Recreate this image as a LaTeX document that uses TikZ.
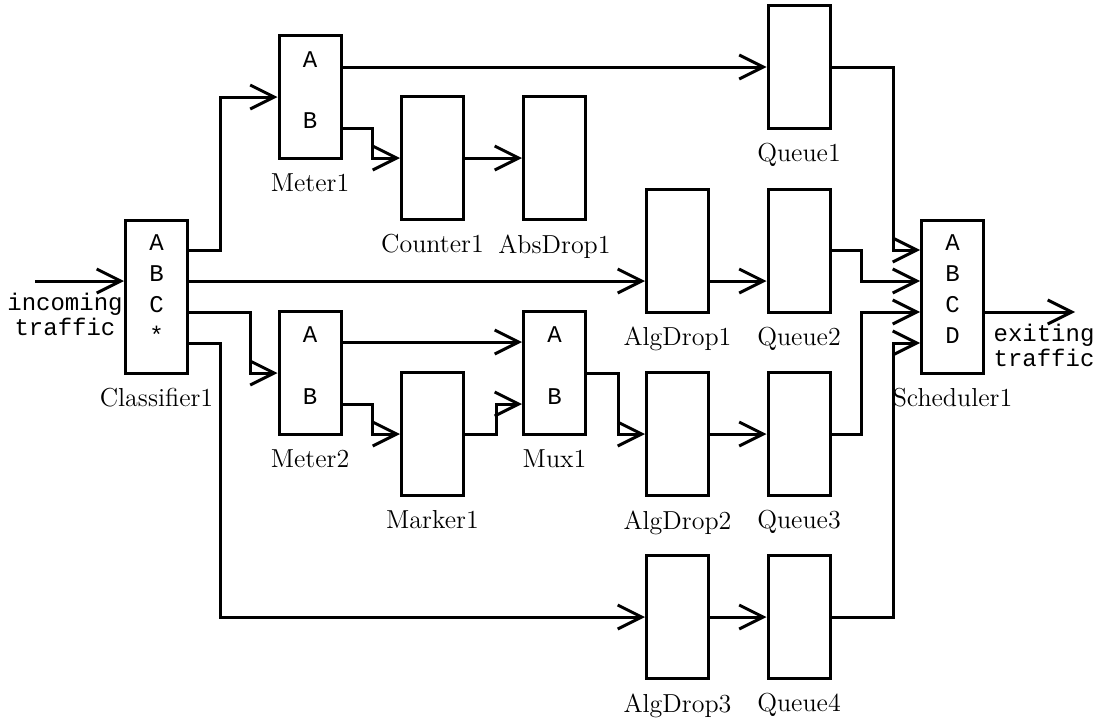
\documentclass[tikz,border=0pt]{standalone}
\usepackage{fontspec}
\newfontfamily\portfont{Liberation Mono}
\usetikzlibrary{arrows.meta}

\begin{document}
\begin{tikzpicture}[
  x=0.5pt, y=-0.5pt,
  line width=1.5pt,
  label distance=6pt,
  every label/.style={font=\fontsize{13}{15}\selectfont, inner sep=0pt},
  block/.style={rectangle, draw, minimum width=31pt, minimum height=61.5pt, inner sep=0pt},
  tallblock/.style={block, minimum height=76.5pt},
  port/.style={anchor=base, inner sep=0pt, font=\portfont\fontsize{12}{12.5}\selectfont},
  flow/.style={-{Straight Barb[length=12pt,width=12pt]}},
]
\useasboundingbox (0,0) rectangle (1101,718);

% boxes
\node[tallblock, label=below:Classifier1] (cls) at (156.5,296.5) {};
\node[block, label=below:Meter1] (met1) at (310,97) {};
\node[block, label=below:Queue1] (q1) at (799,67) {};
\node[block, label=below:Counter1] (cnt1) at (432.5,158) {};
\node[block, label=below:AbsDrop1] (abs1) at (554.5,158) {};
\node[block, label=below:AlgDrop1] (alg1) at (677.5,250.5) {};
\node[block, label=below:Queue2] (q2) at (799,250.5) {};
\node[tallblock, label=below:Scheduler1] (sch) at (952.5,296.5) {};
\node[block, label=below:Meter2] (met2) at (310,373) {};
\node[block, label=below:Mux1] (mux1) at (554.5,373) {};
\node[block, label=below:Marker1] (mrk1) at (432.5,434) {};
\node[block, label=below:AlgDrop2] (alg2) at (677.5,434) {};
\node[block, label=below:Queue3] (q3) at (799,434) {};
\node[block, label=below:AlgDrop3] (alg3) at (677.5,617) {};
\node[block, label=below:Queue4] (q4) at (799,617) {};

% port letters
\node[port] (clsA) at (156.5,250) {A};
\node[port] (clsB) at (156.5,281) {B};
\node[port] (clsC) at (156.5,312) {C};
\node[port] (clsS) at (156.5,343) {*};
\node[port] (schA) at (952.5,250) {A};
\node[port] (schB) at (952.5,281) {B};
\node[port] (schC) at (952.5,312) {C};
\node[port] (schD) at (952.5,343) {D};
\node[port] (met1A) at (310,67) {A};
\node[port] (met1B) at (310,128) {B};
\node[port] (met2A) at (310,342) {A};
\node[port] (met2B) at (310,404) {B};
\node[port] (muxA) at (554.5,342) {A};
\node[port] (muxB) at (554.5,404) {B};

% traffic in and out
\coordinate (in) at (35,281);
\coordinate (out) at (1075,312);
\node[font=\portfont\fontsize{12}{12.5}\selectfont, align=center, inner sep=0pt, anchor=base] (intxt) at (65,335) {incoming\\traffic};
\node[font=\portfont\fontsize{12}{12.5}\selectfont, align=center, inner sep=0pt, anchor=base] (outtxt) at (1044,366) {exiting\\traffic};

% connectors
\draw[flow] (in) -- (in -| cls.west);
\draw[flow] (cls.east |- clsA.base) -- ++(31,0) |- (met1.west);
\draw[flow] (cls.east |- clsB.base) -- (clsB.base -| alg1.west);
\draw[flow] (cls.east |- clsC.base) -- ++(61,0) |- (met2.west);
\draw[flow] (cls.east |- clsS.base) -- ++(31,0) |- (alg3.west);
\draw[flow] (met1.east |- met1A.base) -- (q1.west);
\draw[flow] (met1.east |- met1B.base) -- ++(30,0) |- (cnt1.west);
\draw[flow] (cnt1) -- (abs1);
\draw[flow] (alg1.east |- clsB.base) -- (q2.west |- clsB.base);
\draw[flow] (met2.east |- met2A.base) -- (mux1.west |- muxA.base);
\draw[flow] (met2.east |- met2B.base) -- ++(30,0) |- (mrk1.west);
\draw[flow] (mrk1.east) -- ++(31,0) |- (mux1.west |- muxB.base);
\draw[flow] (mux1.east) -- ++(31,0) |- (alg2.west);
\draw[flow] (alg2) -- (q3);
\draw[flow] (alg3) -- (q4);
\draw[flow] (q1.east) -- ++(62,0) |- (sch.west |- schA.base);
\draw[flow] (q2.east) -- ++(30,0) |- (sch.west |- schB.base);
\draw[flow] (q3.east) -- ++(30,0) |- (sch.west |- schC.base);
\draw[flow] (q4.east) -- ++(62,0) |- (sch.west |- schD.base);
\draw[flow] (sch.east |- schC.base) -- (out);
\end{tikzpicture}
\end{document}
